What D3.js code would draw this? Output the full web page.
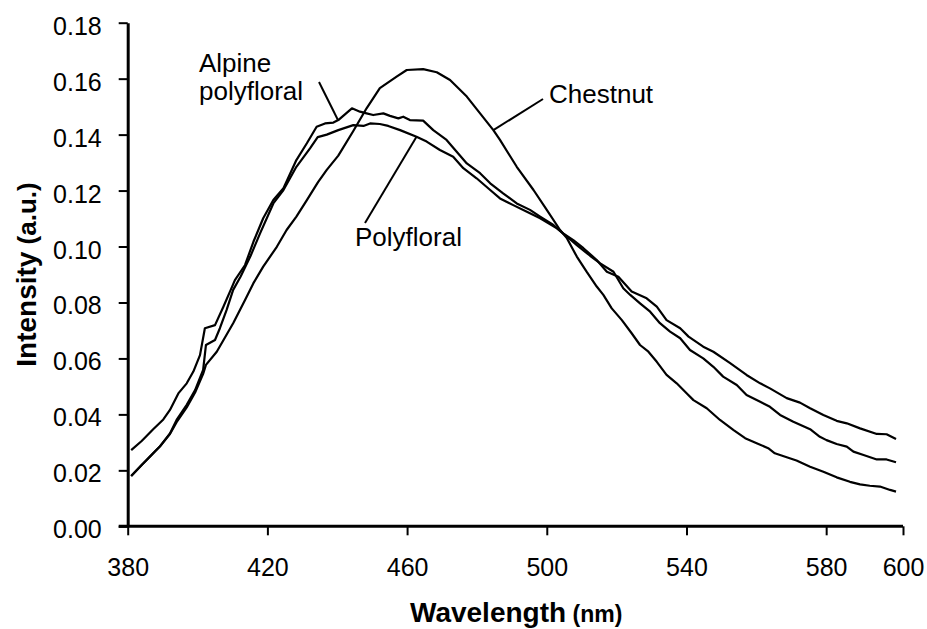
<!DOCTYPE html>
<html lang="en">
<head>
<meta charset="utf-8">
<title>Fluorescence spectra</title>
<script src="https://d3js.org/d3.v7.min.js"></script>
<style>
  body { margin: 0; background: #fff; }
  svg text { font-family: Arial, "Liberation Sans", sans-serif; fill: #000; }
</style>
</head>
<body>
<div id="chart"></div>
<script>
// wavelength (nm) / intensity (a.u.)
var alpineX = [381, 384, 387.3, 390.2, 392.1, 394.5, 396.9, 398.8, 400.7, 402.1, 405, 407.4, 409.5, 410.7, 413.6, 416, 418.8, 421.7, 424.6, 428.3, 431.3, 434.1, 436.5, 438.9, 440.3, 444.2, 446.5, 448.4, 450.3, 453.2, 455.1, 457.5, 458.9, 460.8, 464.6, 467.5, 471.3, 474.2, 477.1, 480.9, 483.8, 487.5, 491.4, 495.2, 498.1, 501.9, 504.7, 507.6, 510.5, 514.3, 517.2, 520.5, 524.3, 528.6, 531.5, 534.3, 538.2, 540.6, 544.8, 547.7, 552.5, 557.2, 561.1, 563.9, 568.7, 572.5, 575.4, 579.2, 583, 585.9, 589.7, 594.5, 597.3, 600];
var alpineY = [0.0272, 0.0305, 0.0347, 0.0382, 0.0416, 0.0475, 0.0511, 0.0553, 0.0612, 0.0708, 0.0719, 0.0785, 0.0845, 0.0880, 0.0934, 0.1017, 0.1101, 0.1166, 0.1208, 0.1309, 0.1369, 0.1428, 0.1440, 0.1443, 0.1452, 0.1494, 0.1482, 0.1476, 0.1470, 0.1476, 0.1467, 0.1458, 0.1464, 0.1452, 0.1450, 0.1416, 0.1381, 0.1339, 0.1297, 0.1262, 0.1226, 0.1190, 0.1154, 0.1131, 0.1107, 0.1077, 0.1047, 0.1023, 0.0994, 0.0952, 0.0910, 0.0892, 0.0839, 0.0815, 0.0785, 0.0737, 0.0708, 0.0678, 0.0642, 0.0624, 0.0583, 0.0541, 0.0511, 0.0493, 0.0458, 0.0442, 0.0422, 0.0398, 0.0377, 0.0368, 0.0350, 0.0330, 0.0329, 0.0312];

var polyX = [381, 384, 389.2, 392.1, 394, 396.9, 399.3, 401.6, 402.4, 405, 406.4, 408.3, 410.2, 412.3, 415.1, 417.9, 421.7, 424.6, 428.3, 432.2, 434.4, 437, 440.3, 444.6, 447.5, 449.4, 452.2, 454.6, 458, 462.7, 465.6, 469.4, 473.2, 476.1, 479.9, 483.8, 486.6, 490.4, 494.3, 498.1, 502.9, 505.8, 508.6, 512.4, 515.3, 519.1, 521.9, 523.9, 526.7, 529.6, 532.4, 535.3, 538.2, 541, 544.8, 547.7, 550.5, 554.4, 557.2, 561.1, 563.9, 566.8, 570.6, 575.4, 578.2, 580.1, 583, 585.9, 587.8, 590.7, 594.5, 597.3, 600];
var polyY = [0.0180, 0.0219, 0.0285, 0.0332, 0.0380, 0.0434, 0.0487, 0.0559, 0.0648, 0.0666, 0.0708, 0.0773, 0.0845, 0.0892, 0.0964, 0.1047, 0.1154, 0.1202, 0.1285, 0.1351, 0.1391, 0.1400, 0.1416, 0.1434, 0.1431, 0.1440, 0.1438, 0.1431, 0.1416, 0.1392, 0.1375, 0.1345, 0.1321, 0.1280, 0.1244, 0.1202, 0.1172, 0.1148, 0.1124, 0.1101, 0.1065, 0.1035, 0.1005, 0.0967, 0.0940, 0.0910, 0.0851, 0.0827, 0.0797, 0.0767, 0.0726, 0.0696, 0.0672, 0.0630, 0.0600, 0.0570, 0.0535, 0.0505, 0.0469, 0.0445, 0.0427, 0.0398, 0.0374, 0.0347, 0.0320, 0.0308, 0.0294, 0.0285, 0.0267, 0.0255, 0.0239, 0.0239, 0.0229];

var chestnutX = [381, 384, 389.2, 392.1, 394, 396.9, 399.3, 401.6, 402.4, 405.5, 410.2, 413.6, 416, 418.8, 422.7, 425.5, 428.3, 431.3, 434.5, 437, 440.3, 444.6, 448.4, 452.2, 457, 459.9, 464.6, 468.5, 472.3, 477.1, 480.9, 484.7, 486.6, 491.4, 496.2, 500, 503.8, 505.8, 508.6, 511.4, 514.3, 516.2, 518.6, 521.5, 524.3, 526.7, 529.1, 531.5, 534.3, 537.2, 540.1, 542, 545.8, 549.6, 553.5, 556.8, 560.1, 563.4, 565.3, 568.7, 571.5, 575.4, 579.2, 583, 586.8, 589.7, 592.5, 595.4, 598.3, 600];
var chestnutY = [0.0180, 0.0219, 0.0285, 0.0330, 0.0372, 0.0425, 0.0478, 0.0545, 0.0577, 0.0624, 0.0726, 0.0809, 0.0869, 0.0928, 0.0999, 0.1059, 0.1107, 0.1166, 0.1230, 0.1274, 0.1325, 0.1413, 0.1494, 0.1566, 0.1607, 0.1631, 0.1634, 0.1623, 0.1595, 0.1536, 0.1476, 0.1416, 0.1381, 0.1285, 0.1202, 0.1131, 0.1059, 0.1029, 0.0964, 0.0910, 0.0857, 0.0827, 0.0779, 0.0737, 0.0690, 0.0648, 0.0624, 0.0588, 0.0541, 0.0511, 0.0475, 0.0451, 0.0422, 0.0380, 0.0344, 0.0315, 0.0297, 0.0279, 0.0261, 0.0247, 0.0235, 0.0213, 0.0195, 0.0175, 0.0159, 0.0150, 0.0145, 0.0142, 0.0130, 0.0124];

var xTickValues = [380, 420, 460, 500, 540, 580, 602];
var xTickLabels = ["380", "420", "460", "500", "540", "580", "600"];
var yTickValues = [0, 0.02, 0.04, 0.06, 0.08, 0.10, 0.12, 0.14, 0.16, 0.18];

var width = 927, height = 629;
var margin = {top: 22.7, right: 24, bottom: 102.7, left: 127.7};

var svg = d3.select("#chart").append("svg")
    .attr("width", width)
    .attr("height", height);

var x = d3.scaleLinear().domain([380, 602]).range([margin.left, width - margin.right]);
var y = d3.scaleLinear().domain([0, 0.18]).range([height - margin.bottom, margin.top]);

// axes
var xAxis = svg.append("g")
    .attr("transform", "translate(0," + (height - margin.bottom) + ")")
    .call(d3.axisBottom(x)
      .tickValues(xTickValues)
      .tickFormat(function(d, i) { return xTickLabels[i]; })
      .tickSize(9).tickSizeOuter(0).tickPadding(23));

var yAxis = svg.append("g")
    .attr("transform", "translate(" + margin.left + ",0)")
    .call(d3.axisLeft(y)
      .tickValues(yTickValues)
      .tickFormat(d3.format(".2f"))
      .tickSize(9).tickSizeOuter(0).tickPadding(17));

[xAxis, yAxis].forEach(function(g) {
  g.select(".domain").attr("stroke", "#000").attr("stroke-width", 3);
  g.selectAll(".tick line").attr("stroke", "#000").attr("stroke-width", 2);
  g.selectAll(".tick text")
    .attr("font-family", "Arial, 'Liberation Sans', sans-serif")
    .attr("font-size", 25)
    .attr("fill", "#000");
});
yAxis.selectAll(".tick text").attr("dy", "0.46em");
// the x axis line runs from the y axis' zero tick
xAxis.select(".domain").attr("d", "M" + (margin.left - 9) + ",0H" + (width - margin.right));

// spectra
var line = d3.line()
    .x(function(d) { return x(d[0]); })
    .y(function(d) { return y(d[1]); });

var series = [
  d3.zip(alpineX, alpineY),
  d3.zip(polyX, polyY),
  d3.zip(chestnutX, chestnutY)
];

svg.append("g").selectAll("path")
  .data(series)
  .enter().append("path")
    .attr("d", line)
    .attr("fill", "none")
    .attr("stroke", "#000")
    .attr("stroke-width", 2.2)
    .attr("stroke-linejoin", "round");

// labels with leader lines (anchor is the wavelength / intensity where the line meets a curve)
var notes = [
  {lines: ["Alpine", "polyfloral"], tx: 199, ty: 71.7, from: [319, 82], to: [440.2, 0.1452]},
  {lines: ["Chestnut"], tx: 549, ty: 103, from: [543, 99], to: [484.7, 0.1416]},
  {lines: ["Polyfloral"], tx: 355, ty: 246, from: [365, 223], to: [462.7, 0.1392]}
];

notes.forEach(function(n) {
  svg.append("line")
    .attr("x1", n.from[0]).attr("y1", n.from[1])
    .attr("x2", x(n.to[0])).attr("y2", y(n.to[1]))
    .attr("stroke", "#000")
    .attr("stroke-width", 2);
  var t = svg.append("text")
    .attr("x", n.tx).attr("y", n.ty)
    .attr("font-size", 26);
  n.lines.forEach(function(s, i) {
    t.append("tspan").attr("x", n.tx).attr("dy", i ? 28.5 : 0).text(s);
  });
});

// axis titles
var xt = svg.append("text")
    .attr("x", 410).attr("y", 622)
    .attr("font-weight", "bold");
xt.append("tspan").attr("font-size", 28).text("Wavelength");
xt.append("tspan").attr("font-size", 23).text(" (nm)");

var yt = svg.append("text")
    .attr("transform", "translate(36," + ((height - margin.bottom + margin.top) / 2) + ") rotate(-90)")
    .attr("text-anchor", "middle")
    .attr("font-weight", "bold");
yt.append("tspan").attr("font-size", 28).text("Intensity");
yt.append("tspan").attr("font-size", 26).text(" (a.u.)");
</script>
</body>
</html>
